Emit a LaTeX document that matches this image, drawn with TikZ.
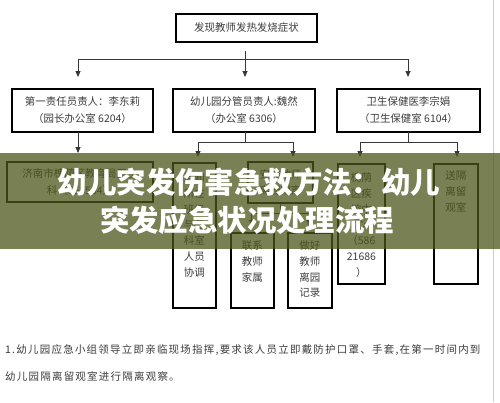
\documentclass[tikz,border=0pt]{standalone}
\usepackage{fontspec}
\setmainfont{Noto Sans CJK SC}
\newfontfamily\bodyfont{Noto Sans CJK SC}[LetterSpace=12]
\usetikzlibrary{arrows.meta}
\definecolor{linegray}{RGB}{55,55,55}
\definecolor{txtgray}{RGB}{60,60,60}
\definecolor{bannerolive}{RGB}{75,86,27}
\definecolor{edgegray}{RGB}{205,205,205}
\tikzset{
  box/.style={draw=black, line width=1.8bp, inner sep=0pt, text=txtgray,
    font=\fontsize{10.5}{17}\selectfont, align=center},
  tallbox/.style={box, anchor=north west},
  conn/.style={draw=linegray, line width=0.8bp},
  arr/.style={conn, -{Triangle[width=5bp,length=6bp]}},
  para/.style={anchor=west, inner sep=0pt, text=txtgray, font=\bodyfont\fontsize{10.5}{14}\selectfont},
  title/.style={text=white, inner sep=0pt, font=\bfseries\fontsize{29.5}{36}\selectfont}
}
\newcommand{\tb}[4]{\parbox[c][#2][t]{#1}{\centering\fontsize{10.5}{15.8}\selectfont\rule{0pt}{#3}#4}}
\begin{document}
\begin{tikzpicture}[x=1bp,y=-1bp]
\useasboundingbox[fill=white] (0,0) rectangle (500,402);
\draw[edgegray, line width=1bp] (493,0) -- (493,402);

% boxes
\node[box, minimum width=141bp, minimum height=28bp] (top) at (246.5,28) {发现教师发热发烧症状};
\node[box, minimum width=141bp, minimum height=43bp] (b1) at (82.5,110.5) {第一责任员责人：李东莉\\（园长办公室 6204）};
\node[box, minimum width=142bp, minimum height=43bp] (b2) at (244,110.5) {幼儿园分管员责人:魏然\\（办公室 6306）};
\node[box, minimum width=143bp, minimum height=43bp] (b3) at (408.5,110.5) {卫生保健医李宗娟\\（卫生保健室 6104）};
\node[box, minimum width=146bp, minimum height=40bp] (b4) at (80,182) {济南市槐荫区教育局卫生\\科（655584）};
\node[tallbox] (b2a) at (172,162) {\tb{43bp}{145bp}{18.7bp}{通知\\所在\\班级\\与各\\科室\\人员\\协调}};
\node[box, minimum width=65bp, minimum height=41bp] (b2b) at (280.5,182.5) {安排教师\\离园隔离};
\node[tallbox] (b2c) at (230,232) {\tb{43bp}{75bp}{16.7bp}{联系\\教师\\家属}};
\node[tallbox] (b2d) at (287,232) {\tb{44bp}{75bp}{16.7bp}{做好\\教师\\离园\\记录}};
\node[tallbox] (b3a) at (337,163) {\tb{47bp}{120bp}{17.7bp}{槐荫\\区疾\\控中\\心\\（586\\21686\\）}};
\node[tallbox] (b3b) at (433,163) {\tb{44bp}{120bp}{15.7bp}{送隔\\离留\\观室}};

% connectors level 1
\coordinate (t0) at (245,51);
\coordinate (t1) at (245,59);
\coordinate (hL) at (78,59);
\coordinate (hR) at (408,59);
\coordinate (e1) at (78,77);
\coordinate (e2) at (245,77);
\coordinate (e3) at (408,77);
\draw[conn] (t0) -- (t1);
\draw[conn] (hL) -- (hR);
\draw[arr] (hL) -- (e1);
\draw[arr] (t1) -- (e2);
\draw[arr] (hR) -- (e3);

% b1 -> b4
\coordinate (s1) at (78,132);
\coordinate (e4) at (78,153);
\draw[arr] (s1) -- (e4);

% b2 -> b2a, b2b
\coordinate (s2) at (245,132);
\coordinate (m2) at (245,142);
\coordinate (m2L) at (198,142);
\coordinate (m2R) at (293,142);
\coordinate (e5) at (198,157);
\coordinate (e6) at (293,157);
\draw[conn] (s2) -- (m2);
\draw[conn] (m2L) -- (m2R);
\draw[arr] (m2L) -- (e5);
\draw[arr] (m2R) -- (e6);

% b3 -> b3a, b3b
\coordinate (s3) at (408,132);
\coordinate (m3) at (408,142);
\coordinate (m3L) at (360,142);
\coordinate (m3R) at (457,142);
\coordinate (e7) at (360,157);
\coordinate (e8) at (457,157);
\draw[conn] (s3) -- (m3);
\draw[conn] (m3L) -- (m3R);
\draw[arr] (m3L) -- (e7);
\draw[arr] (m3R) -- (e8);

% b2b -> b2c, b2d
\coordinate (m4) at (280.5,213);
\coordinate (m4L) at (251.5,213);
\coordinate (m4R) at (309,213);
\coordinate (e9) at (251.5,226);
\coordinate (e10) at (309,226);
\draw[conn] (b2b.south) -- (m4);
\draw[conn] (m4L) -- (m4R);
\draw[arr] (m4L) -- (e9);
\draw[arr] (m4R) -- (e10);

% paragraph
\node[para] (p1) at (5,350) {1.幼儿园应急小组领导立即亲临现场指挥,要求该人员立即戴防护口罩、手套,在第一时间内到};
\node[para] (p2) at (5,376) {幼儿园隔离留观室进行隔离观察。};

% banner
\fill[bannerolive, opacity=0.75] (0,153) rectangle (500,249);
\node[title] (tt1) at (249,182) {幼儿突发伤害急救方法：幼儿};
\node[title] (tt2) at (247,220) {突发应急状况处理流程};
\end{tikzpicture}
\end{document}
